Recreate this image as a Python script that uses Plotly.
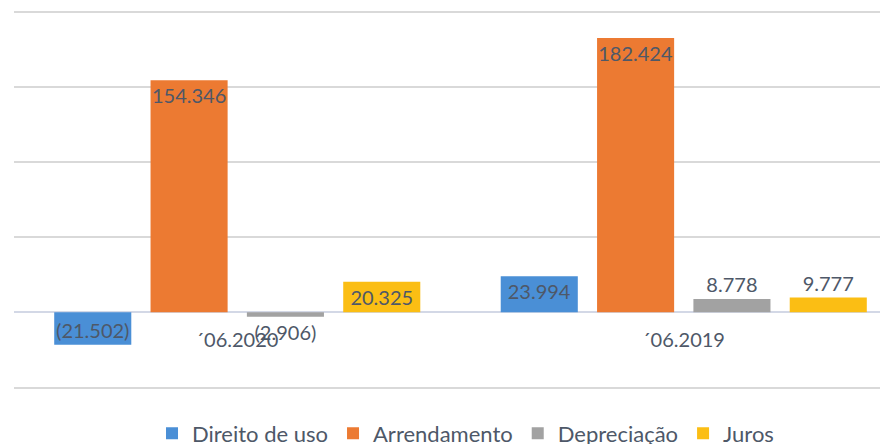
import plotly.graph_objects as go

categories = ["´06.2020", "´06.2019"]
series_names = ["Direito de uso", "Arrendamento", "Depreciação", "Juros"]
direito_de_uso = [-21.502, 23.994]
arrendamento = [154.346, 182.424]
depreciacao = [-2.906, 8.778]
juros = [20.325, 9.777]
label_text = {
    "Direito de uso": ["(21.502)", "23.994"],
    "Arrendamento": ["154.346", "182.424"],
    "Depreciação": ["(2.906)", "8.778"],
    "Juros": ["20.325", "9.777"],
}

values = [direito_de_uso, arrendamento, depreciacao, juros]
colors = ["#4A8FD6", "#EC7A32", "#A2A2A2", "#FBBE14"]
positions = [["inside", "inside"], ["inside", "inside"],
             ["outside", "outside"], ["inside", "outside"]]

FONT = "Lato"
TXT = "#4E5868"

fig = go.Figure()
for name, vals, col, pos in zip(series_names, values, colors, positions):
    fig.add_trace(go.Bar(
        name=name, x=categories, y=vals,
        marker=dict(color=col, line=dict(width=0)),
        text=label_text[name], textposition=pos,
        insidetextanchor="end", constraintext="none", textangle=0,
        textfont=dict(family=FONT, size=20, color=TXT),
        cliponaxis=False,
    ))

fig.update_layout(
    width=880, height=436,
    margin=dict(l=6, r=0, t=2, b=55, autoexpand=False),
    paper_bgcolor="white", plot_bgcolor="white",
    barmode="group", bargap=0.137, bargroupgap=0.2,
    font=dict(family=FONT, size=20, color=TXT),
    showlegend=True,
    legend=dict(orientation="h", x=0.5166, xanchor="center", y=-0.117, yanchor="middle",
                font=dict(family=FONT, size=22, color=TXT), itemclick=False,
                traceorder="normal"),
    xaxis=dict(range=[-0.5, 1.4574], showgrid=False, showline=False, ticks="",
               anchor="free", position=51 / 252, ticklabelstandoff=14, automargin=False,
               tickfont=dict(family=FONT, size=20, color=TXT)),
    yaxis=dict(range=[-51, 201], dtick=50, tick0=0, showgrid=True, gridcolor="#D9D9D9", gridwidth=1.5,
               zeroline=True, zerolinecolor="#D3D8E6", zerolinewidth=2, automargin=False,
               showticklabels=False, ticks=""),
)

fig.write_html("out.html")
